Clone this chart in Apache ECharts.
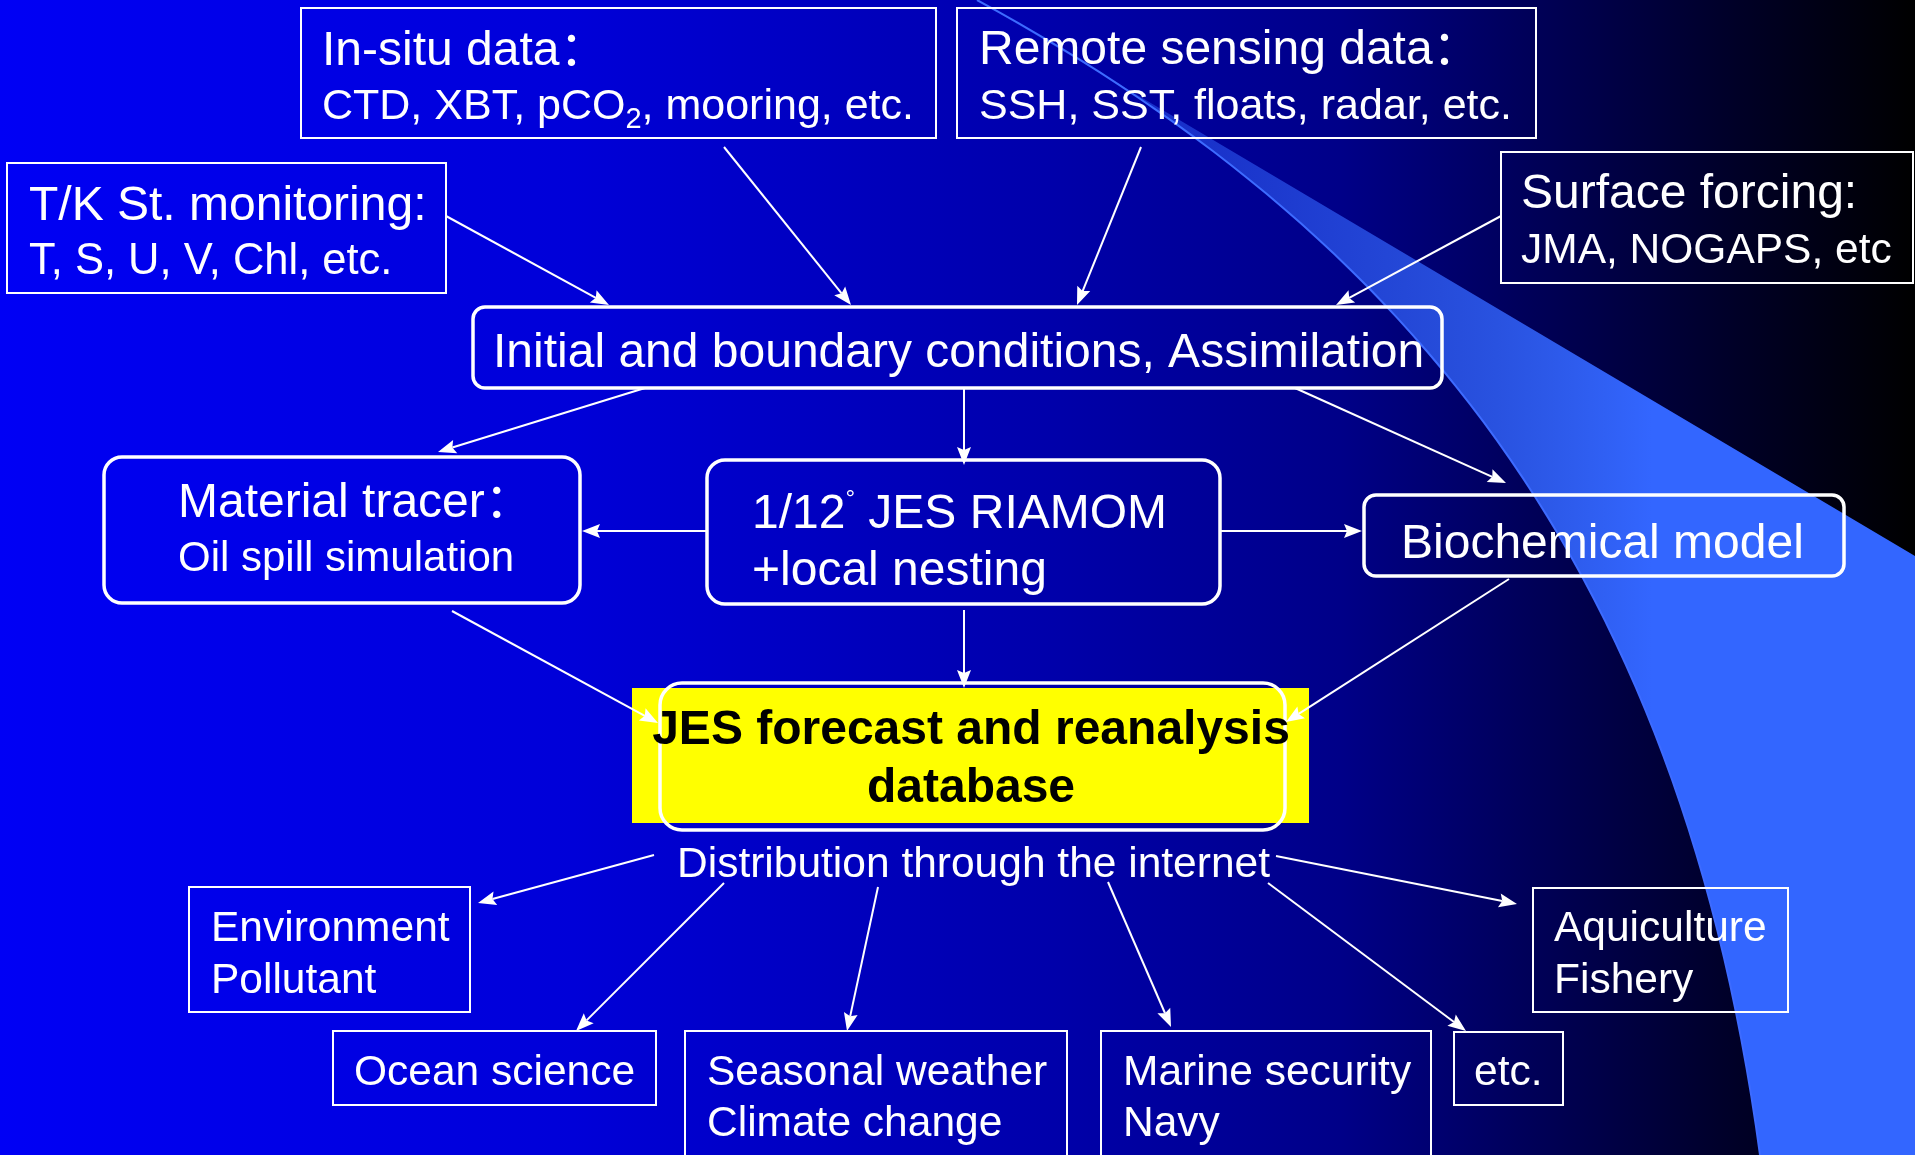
<!DOCTYPE html>
<html>
<head>
<meta charset="utf-8">
<script src="https://cdn.jsdelivr.net/npm/echarts@6/dist/echarts.min.js"></script>
<style>
html, body { margin: 0; padding: 0; background: #000; }
#main { width: 1915px; height: 1155px; }
</style>
</head>
<body>
<div id="main"></div>
<script>
// boxes of the flow chart (ids, first line, second line)
var boxIds = ['insitu', 'remote', 'tk', 'surface', 'init', 'tracer', 'riamom', 'bio', 'db', 'dist',
              'env', 'ocean', 'seasonal', 'marine', 'etc', 'aqui'];
var boxTitles = ['In-situ data：', 'Remote sensing data：', 'T/K St. monitoring:', 'Surface forcing:',
                 'Initial and boundary conditions, Assimilation', 'Material tracer：', '1/12{deg|°} JES RIAMOM',
                 'Biochemical model', 'JES forecast and reanalysis', 'Distribution through the internet',
                 'Environment', 'Ocean science', 'Seasonal weather', 'Marine security', 'etc.', 'Aquiculture'];
var boxDetails = ['CTD, XBT, pCO{sub|2}, mooring, etc.', 'SSH, SST, floats, radar, etc.', 'T, S, U, V, Chl, etc.',
                  'JMA, NOGAPS, etc', '', 'Oil spill simulation', '+local nesting', '', 'database', '',
                  'Pollutant', '', 'Climate change', 'Navy', '', 'Fishery'];
// arrows: from -> to
var links = [
    ['insitu', 'init'], ['remote', 'init'], ['tk', 'init'], ['surface', 'init'],
    ['init', 'tracer'], ['init', 'riamom'], ['init', 'bio'],
    ['riamom', 'tracer'], ['riamom', 'bio'],
    ['tracer', 'db'], ['riamom', 'db'], ['bio', 'db'],
    ['dist', 'env'], ['dist', 'ocean'], ['dist', 'seasonal'], ['dist', 'marine'], ['dist', 'etc'], ['dist', 'aqui']
];

var FONT = "'Liberation Sans', Arial, 'Noto Sans CJK SC', sans-serif";

// where things sit on the slide (x, y, w, h in slide pixels)
var layout = {
    insitu:   { rect: [301, 8, 635, 130], tx: 322, ty: [52, 107], size: [48, 43] },
    remote:   { rect: [957, 8, 579, 130], tx: 979, ty: [51, 107], size: [48, 43] },
    tk:       { rect: [7, 163, 439, 130], tx: 29, ty: [207, 262], size: [48, 43.5] },
    surface:  { rect: [1501, 152, 412, 131], tx: 1521, ty: [195, 251], size: [48, 42.5] },
    init:     { rect: [473, 307, 969, 81], r: 12, tx: 493, ty: [354], size: [48] },
    tracer:   { rect: [104, 457, 476, 146], r: 18, tx: 178, ty: [504, 559], size: [48, 42] },
    riamom:   { rect: [707, 460, 513, 144], r: 18, tx: 752, ty: [515, 572], size: [48, 48] },
    bio:      { rect: [1364, 495, 480, 81], r: 12, tx: 1401, ty: [545], size: [48] },
    db:       { rect: [660, 683, 625, 147], r: 22, fill: [632, 688, 677, 135], tx: 971, ty: [731, 789],
                size: [48, 48], bold: true, align: 'center', color: '#000' },
    dist:     { rect: [677, 840, 592, 44], noBorder: true, tx: 677, ty: [865], size: [42.5] },
    env:      { rect: [189, 887, 281, 125], tx: 211, ty: [929, 981], size: [42.5, 42.5] },
    ocean:    { rect: [333, 1031, 323, 74], tx: 354, ty: [1073], size: [42.5] },
    seasonal: { rect: [685, 1031, 382, 160], tx: 707, ty: [1073, 1124], size: [42.5, 42.5] },
    marine:   { rect: [1101, 1031, 330, 160], tx: 1123, ty: [1073, 1124], size: [42.5, 42.5] },
    etc:      { rect: [1454, 1032, 109, 73], tx: 1474, ty: [1073], size: [42.5] },
    aqui:     { rect: [1533, 888, 255, 124], tx: 1554, ty: [929, 981], size: [42.5, 42.5] }
};

var arrowAnchors = {
    'insitu>init': [[724, 147], [851, 305]],
    'remote>init': [[1141, 147], [1077, 305]],
    'tk>init': [[446, 216], [609, 305]],
    'surface>init': [[1501, 216], [1336, 305]],
    'init>tracer': [[645, 388], [438, 452]],
    'init>riamom': [[964, 388], [964, 465]],
    'init>bio': [[1295, 388], [1506, 483]],
    'riamom>tracer': [[707, 531], [582, 531]],
    'riamom>bio': [[1221, 531], [1362, 531]],
    'tracer>db': [[452, 611], [658, 723]],
    'riamom>db': [[964, 610], [964, 688]],
    'bio>db': [[1509, 579], [1286, 722]],
    'dist>env': [[654, 855], [478, 903]],
    'dist>ocean': [[724, 883], [576, 1031]],
    'dist>seasonal': [[878, 887], [847, 1031]],
    'dist>marine': [[1108, 882], [1171, 1027]],
    'dist>etc': [[1268, 883], [1466, 1031]],
    'dist>aqui': [[1276, 856], [1517, 904]]
};

var boxData = boxIds.map(function (id, i) {
    var r = layout[id].rect;
    return [r[0], r[1], r[0] + r[2], r[1] + r[3], i];
});
var arrowData = links.map(function (l) {
    var a = arrowAnchors[l[0] + '>' + l[1]];
    return [a[0][0], a[0][1], a[1][0], a[1][1]];
});

function renderBox(params, api) {
    var i = api.value(4);
    var lay = layout[boxIds[i]];
    var p0 = api.coord([api.value(0), api.value(1)]);
    var p1 = api.coord([api.value(2), api.value(3)]);
    var children = [];
    if (lay.fill) {
        var f0 = api.coord([lay.fill[0], lay.fill[1]]);
        var f1 = api.coord([lay.fill[0] + lay.fill[2], lay.fill[1] + lay.fill[3]]);
        children.push({
            type: 'rect',
            shape: { x: f0[0], y: f0[1], width: f1[0] - f0[0], height: f1[1] - f0[1] },
            style: { fill: '#ffff00' }
        });
    }
    if (!lay.noBorder) {
        children.push({
            type: 'rect',
            shape: { x: p0[0], y: p0[1], width: p1[0] - p0[0], height: p1[1] - p0[1], r: lay.r || 0 },
            style: { fill: 'none', stroke: '#ffffff', lineWidth: lay.r ? 3.5 : 2 }
        });
    }
    var lines = [boxTitles[i], boxDetails[i]];
    lay.ty.forEach(function (ty, k) {
        var pt = api.coord([lay.tx, ty]);
        var fs = lay.size[k];
        children.push({
            type: 'text',
            x: pt[0],
            y: pt[1],
            style: {
                text: lines[k],
                fill: lay.color || '#ffffff',
                fontSize: fs,
                fontFamily: FONT,
                fontWeight: lay.bold ? 'bold' : 'normal',
                align: lay.align || 'left',
                verticalAlign: 'middle',
                lineHeight: 56,
                rich: {
                    sub: { fontSize: 29, fontFamily: FONT, fill: '#ffffff', lineHeight: 56, verticalAlign: 'bottom' },
                    deg: { fontSize: 24, fontFamily: FONT, fill: '#ffffff', lineHeight: 56, verticalAlign: 'top' }
                }
            }
        });
    });
    return { type: 'group', children: children };
}

function renderArrow(params, api) {
    var s = api.coord([api.value(0), api.value(1)]);
    var e = api.coord([api.value(2), api.value(3)]);
    var dx = e[0] - s[0], dy = e[1] - s[1];
    var len = Math.sqrt(dx * dx + dy * dy);
    var ux = dx / len, uy = dy / len, px = -uy, py = ux;
    var hl = 18, hw = 7, notch = 3;
    var bx = e[0] - ux * hl, by = e[1] - uy * hl;
    return {
        type: 'group',
        children: [
            {
                type: 'line',
                shape: { x1: s[0], y1: s[1], x2: bx + ux * notch, y2: by + uy * notch },
                style: { stroke: '#ffffff', lineWidth: 2 }
            },
            {
                type: 'polygon',
                shape: { points: [[e[0], e[1]], [bx + px * hw, by + py * hw], [bx + ux * notch, by + uy * notch], [bx - px * hw, by - py * hw]] },
                style: { fill: '#ffffff' }
            }
        ]
    };
}

// decorative swoosh of the slide template
var curve = [];
(function () {
    var P = [[977, 0], [1400, 230], [1680, 560], [1760, 1155]];
    for (var k = 0; k <= 60; k++) {
        var t = k / 60, m = 1 - t;
        curve.push([
            m * m * m * P[0][0] + 3 * m * m * t * P[1][0] + 3 * m * t * t * P[2][0] + t * t * t * P[3][0],
            m * m * m * P[0][1] + 3 * m * m * t * P[1][1] + 3 * m * t * t * P[2][1] + t * t * t * P[3][1]
        ]);
    }
})();

var myChart = echarts.init(document.getElementById('main'));
var option = {
    animation: false,
    grid: { left: 0, right: 0, top: 0, bottom: 0 },
    xAxis: { type: 'value', min: 0, max: 1915, show: false },
    yAxis: { type: 'value', min: 0, max: 1155, inverse: true, show: false },
    graphic: {
        elements: [
            {
                type: 'rect',
                z: 0,
                shape: { x: 0, y: 0, width: 1915, height: 1155 },
                style: {
                    fill: {
                        type: 'linear', x: 0, y: 0, x2: 1, y2: 0,
                        colorStops: [
                            { offset: 0, color: '#0000f5' },
                            { offset: 0.3, color: '#0000d8' },
                            { offset: 0.55, color: '#0000aa' },
                            { offset: 0.7, color: '#000088' },
                            { offset: 0.8, color: '#000058' },
                            { offset: 0.9, color: '#00002a' },
                            { offset: 1, color: '#000000' }
                        ]
                    }
                }
            },
            {
                type: 'polygon',
                z: 1,
                shape: { points: curve.concat([[1915, 1155], [1915, 556]]) },
                style: {
                    fill: {
                        type: 'linear', x: 0, y: 0, x2: 1, y2: 0,
                        colorStops: [
                            { offset: 0, color: 'rgba(51,102,255,0.25)' },
                            { offset: 0.55, color: 'rgba(51,102,255,0.8)' },
                            { offset: 0.72, color: 'rgba(51,102,255,1)' },
                            { offset: 1, color: 'rgba(51,102,255,1)' }
                        ]
                    }
                }
            },
            {
                type: 'polyline',
                z: 1,
                shape: { points: curve },
                style: { fill: 'none', stroke: '#3d6bff', lineWidth: 2 }
            }
        ]
    },
    series: [
        {
            type: 'custom',
            name: 'boxes',
            z: 5,
            renderItem: renderBox,
            encode: { x: [0, 2], y: [1, 3] },
            data: boxData
        },
        {
            type: 'custom',
            name: 'arrows',
            z: 6,
            renderItem: renderArrow,
            encode: { x: [0, 2], y: [1, 3] },
            data: arrowData
        }
    ]
};
myChart.setOption(option);
</script>
</body>
</html>
